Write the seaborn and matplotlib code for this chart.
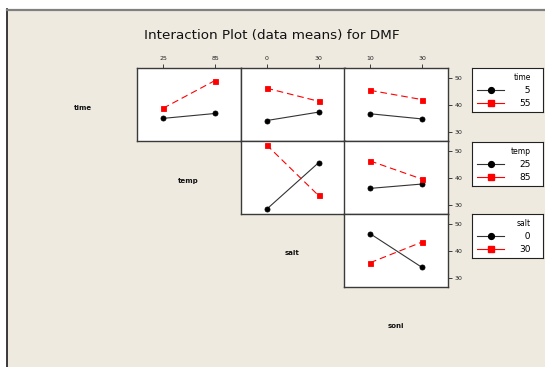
import matplotlib
matplotlib.use("Agg")
import matplotlib.pyplot as plt
from matplotlib.patches import Rectangle
from matplotlib.lines import Line2D
import pandas as pd
import seaborn as sns

# Factor levels
time_levels = ["5", "55"]
temp_levels = ["25", "85"]
salt_levels = ["0", "30"]
soni_levels = ["10", "30"]

# Mean DMF: rows = trace-factor level, columns = x-factor level
time_x_temp = [[35.1, 36.9], [38.8, 49.0]]
time_x_salt = [[34.3, 37.4], [46.2, 41.4]]
time_x_soni = [[36.8, 34.9], [45.4, 42.0]]
temp_x_salt = [[28.5, 45.6], [52.2, 33.6]]
temp_x_soni = [[36.2, 37.8], [46.3, 39.6]]
salt_x_soni = [[46.4, 34.0], [35.7, 43.3]]

factor_names = ["time", "temp", "salt", "soni"]
factor_levels = [time_levels, temp_levels, salt_levels, soni_levels]
# (row, col, means) -> trace factor = row, x factor = col + 1
panels = [
    (0, 0, time_x_temp), (0, 1, time_x_salt), (0, 2, time_x_soni),
    (1, 1, temp_x_salt), (1, 2, temp_x_soni),
    (2, 2, salt_x_soni),
]

W, H = 545, 367
BG = "#EEEAE0"
fig = plt.figure(figsize=(W / 100, H / 100), dpi=100, facecolor="white")


def px_axes(left, top, w, h):
    return fig.add_axes([left / W, 1 - (top + h) / H, w / W, h / H])


# window background and border
fig.patches.append(Rectangle((7 / W, 0), 1 - 7 / W, 1 - 9 / H, transform=fig.transFigure,
                             facecolor=BG, edgecolor="none", zorder=-5))
fig.add_artist(Line2D([7 / W, 7 / W], [0, 1 - 9 / H], color="#1a1a1a", lw=1.2,
                      transform=fig.transFigure))
fig.add_artist(Line2D([7 / W, 1], [1 - 9.5 / H, 1 - 9.5 / H], color="#808080", lw=1.6,
                      transform=fig.transFigure))

fig.text(272 / W, 1 - 36 / H, "Interaction Plot (data means) for DMF",
         fontsize=9.7, ha="center", va="center", color="#111111")

col_left = [137, 240.5, 344]
col_w = 104
row_top = [68, 141, 214]
row_h = 73
palette = ["black", "red"]

for row, col, means in panels:
    trace_lv = factor_levels[row]
    x_lv = factor_levels[col + 1]
    df = pd.DataFrame({
        "x": [x_lv[j] for i in range(2) for j in range(2)],
        "trace": [trace_lv[i] for i in range(2) for j in range(2)],
        "DMF": [means[i][j] for i in range(2) for j in range(2)],
    })
    ax = px_axes(col_left[col], row_top[row], col_w, row_h)
    ax.set_facecolor("white")
    sns.pointplot(data=df, x="x", y="DMF", hue="trace", order=x_lv, hue_order=trace_lv,
                  palette=palette, markers=["o", "s"], linestyles=["-", "--"],
                  errorbar=None, legend=False, ax=ax, markersize=3.6, linewidth=0.8)
    for ln in ax.get_lines():
        if ln.get_linestyle() == "--":
            ln.set_dashes((6, 3.5))
        else:
            ln.set_color("#333333")
            ln.set_markerfacecolor("black")
            ln.set_markeredgecolor("black")
    ax.set_xlim(-0.5, 1.5)
    ax.set_ylim(26.8, 53.6)
    ax.set_xlabel("")
    ax.set_ylabel("")
    for sp in ax.spines.values():
        sp.set_color("#3a3a3a")
        sp.set_linewidth(1.0)
    ax.tick_params(direction="out", length=3, width=0.6, labelsize=4.5, pad=2,
                   colors="#222222")
    if row == 0:
        ax.xaxis.tick_top()
    else:
        ax.set_xticks([])
    if col == 2:
        ax.yaxis.tick_right()
        ax.set_yticks([30, 40, 50])
    else:
        ax.set_yticks([])

# factor names on the diagonal
label_pos = [(83, 108), (188, 181), (292, 253), (396, 326)]
for name, (x, y) in zip(factor_names, label_pos):
    fig.text(x / W, 1 - y / H, name, fontsize=5, fontweight="bold",
             ha="center", va="center", color="#111111")

# legend boxes for each trace factor
legend_tops = [68, 142, 214]
for row in range(3):
    lax = px_axes(472, legend_tops[row], 71, 44)
    lax.set_facecolor("white")
    lax.set_xticks([])
    lax.set_yticks([])
    for sp in lax.spines.values():
        sp.set_color("#222222")
        sp.set_linewidth(0.8)
    lv = factor_levels[row]
    width = max(len(s) for s in lv)
    labels = ["\u2007" * (width - len(s)) + s for s in lv]
    handles = [
        Line2D([], [], color="#333333", lw=0.8, marker="o", ms=4.2,
               markerfacecolor="black", markeredgecolor="black"),
        Line2D([], [], color="red", lw=0.8, marker="s", ms=4.0),
    ]
    leg = lax.legend(handles, labels, title=factor_names[row], loc="upper left",
                     bbox_to_anchor=(0.0, 1.0), borderaxespad=0.0, frameon=False,
                     fontsize=6.5, title_fontsize=5.5, alignment="right",
                     handlelength=3.0, handletextpad=1.7, labelspacing=0.45,
                     borderpad=0.55)

fig.savefig("out.png", dpi=100, facecolor=fig.get_facecolor())
